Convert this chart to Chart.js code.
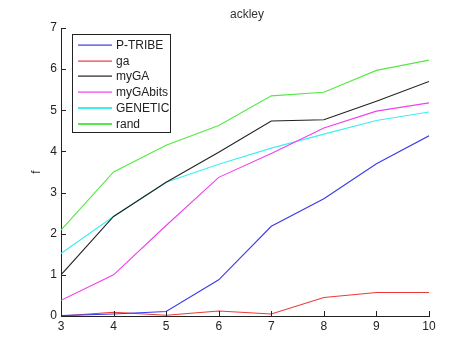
<!DOCTYPE html>
<html>
<head>
<meta charset="utf-8">
<script src="https://cdn.jsdelivr.net/npm/chart.js@4.4.0/dist/chart.umd.min.js"></script>
<style>
html,body{margin:0;padding:0;background:#fff;}
#wrap{width:474px;height:355px;position:relative;}
</style>
</head>
<body>
<div id="wrap"><canvas id="c" width="474" height="355"></canvas></div>
<script>
const categories = [3, 4, 5, 6, 7, 8, 9, 10];
const pTribe   = [0.01, 0.05, 0.11, 0.88, 2.18, 2.85, 3.70, 4.38];
const ga       = [0.00, 0.09, 0.02, 0.12, 0.05, 0.45, 0.57, 0.57];
const myGA     = [1.00, 2.42, 3.25, 3.98, 4.74, 4.77, 5.22, 5.70];
const myGAbits = [0.38, 1.00, 2.20, 3.37, 3.95, 4.57, 4.98, 5.18];
const genetic  = [1.52, 2.42, 3.25, 3.69, 4.08, 4.42, 4.75, 4.96];
const rand     = [2.09, 3.50, 4.15, 4.63, 5.35, 5.44, 5.97, 6.22];
const yTicks = [0, 1, 2, 3, 4, 5, 6, 7];
const xTicks = [3, 4, 5, 6, 7, 8, 9, 10];
const seriesNames = ['P-TRIBE', 'ga', 'myGA', 'myGAbits', 'GENETIC', 'rand'];
const seriesValues = [pTribe, ga, myGA, myGAbits, genetic, rand];
const seriesColors = ['#3a3aee', '#ee3a3a', '#222222', '#ee40ee', '#40eeee', '#55e845'];

const FONT = '"Liberation Sans", Arial, sans-serif';

const datasets = seriesNames.map((n, i) => ({
  label: n,
  data: categories.map((x, j) => ({x: x, y: seriesValues[i][j]})),
  borderColor: seriesColors[i],
  backgroundColor: seriesColors[i],
  borderWidth: 1.1,
  pointRadius: 0,
  tension: 0,
  fill: false
}));

const decor = {
  id: 'decor',
  afterDraw(chart) {
    const ctx = chart.ctx;
    const xs = chart.scales.x, ys = chart.scales.y;
    const a = chart.chartArea;
    ctx.save();
    ctx.strokeStyle = '#222';
    ctx.lineWidth = 1;
    ctx.beginPath();
    xTicks.forEach(t => {
      const px = Math.round(xs.getPixelForValue(t)) + 0.5;
      ctx.moveTo(px, a.bottom);
      ctx.lineTo(px, a.bottom - 5);
    });
    yTicks.forEach(t => {
      const py = Math.round(ys.getPixelForValue(t)) + 0.5;
      ctx.moveTo(a.left, py);
      ctx.lineTo(a.left + 5, py);
    });
    ctx.stroke();
    ctx.fillStyle = '#333';
    ctx.font = '12px ' + FONT;
    ctx.textAlign = 'center';
    ctx.textBaseline = 'middle';
    ctx.fillText('ackley', (a.left + a.right) / 2 + 2, 15);
    ctx.save();
    ctx.translate(37, 172);
    ctx.rotate(-Math.PI / 2);
    ctx.fillText('f', 0, 0);
    ctx.restore();
    const lx = 72.5, ly = 34.5, lw = 98, lh = 98;
    ctx.fillStyle = '#fff';
    ctx.fillRect(lx, ly, lw, lh);
    ctx.lineWidth = 1;
    ctx.strokeStyle = '#222';
    ctx.strokeRect(lx, ly, lw, lh);
    ctx.textAlign = 'left';
    ctx.font = '12px ' + FONT;
    seriesNames.forEach((name, i) => {
      const y = Math.round(45 + i * 15.7);
      ctx.fillStyle = seriesColors[i];
      ctx.fillRect(78, y - ((i >= 4) ? 1 : 0.5), 34, (i >= 4) ? 2 : 1.2);
      ctx.fillStyle = '#222';
      ctx.fillText(name, 116, y + 0.5);
    });
    ctx.restore();
  }
};

new Chart(document.getElementById('c'), {
  type: 'line',
  data: { datasets: datasets },
  plugins: [decor],
  options: {
    responsive: false,
    animation: false,
    layout: { padding: { left: 0, right: 45, top: 28, bottom: 0 } },
    plugins: { legend: { display: false }, title: { display: false }, tooltip: { enabled: false } },
    scales: {
      x: {
        type: 'linear', min: 3, max: 10,
        afterFit(s) { s.height = 39; },
        afterBuildTicks(s) { s.ticks = xTicks.map(v => ({value: v})); },
        grid: { display: false, drawTicks: false },
        border: { display: true, color: '#222', width: 1 },
        ticks: { padding: 3, color: '#222', font: { family: FONT, size: 12 }, maxRotation: 0, autoSkip: false }
      },
      y: {
        type: 'linear', min: 0, max: 7,
        afterFit(s) { s.width = 61; },
        afterBuildTicks(s) { s.ticks = yTicks.map(v => ({value: v})); },
        grid: { display: false, drawTicks: false },
        border: { display: true, color: '#222', width: 1 },
        ticks: { padding: 4, color: '#222', font: { family: FONT, size: 12 } }
      }
    }
  }
});
</script>
</body>
</html>
